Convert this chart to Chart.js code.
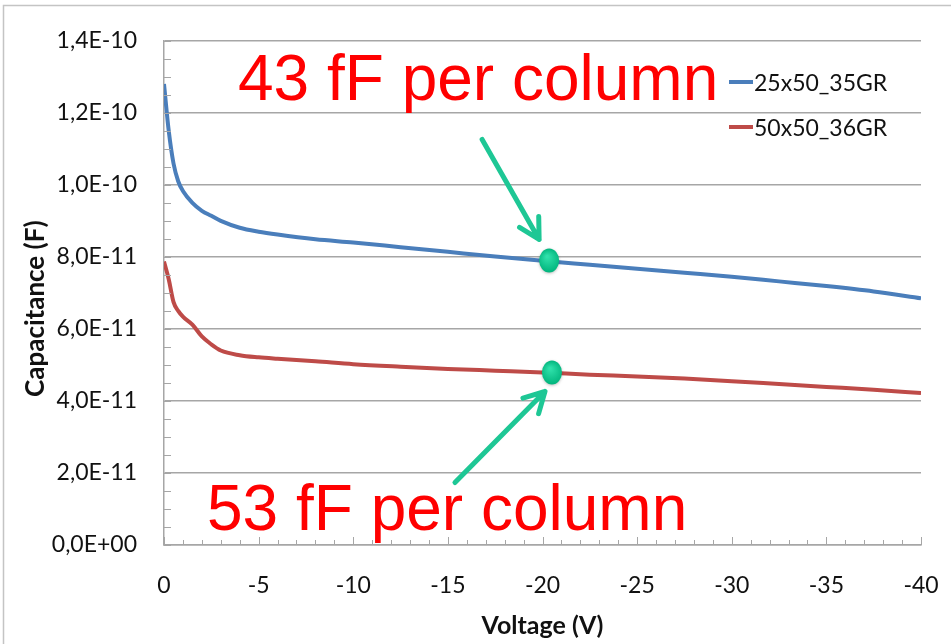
<!DOCTYPE html>
<html>
<head>
<meta charset="utf-8">
<script src="https://cdn.jsdelivr.net/npm/chart.js@4/dist/chart.umd.min.js"></script>
<style>
  body { margin: 0; background: #fff; }
  #wrap { width: 951px; height: 644px; }
</style>
</head>
<body>
<div id="wrap"><canvas id="myChart"></canvas></div>
<script>
// data (capacitance in F, voltage in V)
const voltage = [0, -0.25, -0.5, -0.75, -1, -1.5, -2, -2.5, -3, -4, -5, -6, -8, -10, -12.5, -15, -17.5, -20, -22.5, -25, -27.5, -30, -32.5, -35, -37.5, -40];
const cap25x50 = [12.8e-11, 11.5e-11, 10.6e-11, 10.1e-11, 9.83e-11, 9.5e-11, 9.28e-11, 9.14e-11, 9.0e-11, 8.81e-11, 8.7e-11, 8.62e-11, 8.49e-11, 8.4e-11, 8.27e-11, 8.14e-11, 8.01e-11, 7.89e-11, 7.78e-11, 7.67e-11, 7.56e-11, 7.45e-11, 7.32e-11, 7.19e-11, 7.04e-11, 6.85e-11];
const cap50x50 = [7.87e-11, 7.38e-11, 6.75e-11, 6.5e-11, 6.34e-11, 6.12e-11, 5.79e-11, 5.57e-11, 5.4e-11, 5.27e-11, 5.21e-11, 5.17e-11, 5.1e-11, 5.02e-11, 4.95e-11, 4.89e-11, 4.84e-11, 4.79e-11, 4.73e-11, 4.68e-11, 4.62e-11, 4.55e-11, 4.47e-11, 4.39e-11, 4.31e-11, 4.22e-11];
const seriesNames = ['25x50_35GR', '50x50_36GR'];
const xTicks = [0, -5, -10, -15, -20, -25, -30, -35, -40];
const yTicks = [0, 2e-11, 4e-11, 6e-11, 8e-11, 10e-11, 12e-11, 14e-11];
// marked points and their notes
const noteV = [-20.35, -20.5];
const noteC = [7.9e-11, 4.79e-11];
const noteText = ['43 fF per column', '53 fF per column'];

const gridColor = '#a6a6a6';
const textColor = '#111';
const tickFont = { family: 'Lato', size: 23 };

function sciLabel(v) {
  if (v === 0) return '0,0E+00';
  const [m, e] = v.toExponential(1).split('e');
  const n = parseInt(e, 10);
  return m.replace('.', ',') + 'E' + (n < 0 ? '-' : '+') + String(Math.abs(n)).padStart(2, '0');
}

function drawArrow(ctx, tx, ty, hx, hy) {
  const ang = Math.atan2(hy - ty, hx - tx);
  const len = 23;
  ctx.beginPath();
  ctx.moveTo(tx, ty);
  ctx.lineTo(hx, hy);
  ctx.moveTo(hx - len * Math.cos(ang - 0.5), hy - len * Math.sin(ang - 0.5));
  ctx.lineTo(hx, hy);
  ctx.lineTo(hx - len * Math.cos(ang + 0.5), hy - len * Math.sin(ang + 0.5));
  ctx.stroke();
}

const extras = {
  id: 'extras',
  beforeDraw(chart) {
    const ctx = chart.ctx;
    ctx.save();
    ctx.fillStyle = '#fff';
    ctx.fillRect(0, 0, chart.width, chart.height);
    ctx.strokeStyle = '#c4c4c4';
    ctx.lineWidth = 1.5;
    ctx.strokeRect(3.5, 5.5, chart.width + 20, chart.height + 20);
    ctx.restore();
  },
  afterDraw(chart) {
    const { ctx, chartArea: a, scales: { x, y } } = chart;
    ctx.save();
    // minor tick marks, inside the plot
    ctx.strokeStyle = gridColor;
    ctx.lineWidth = 1;
    for (let i = 0; i <= 28; i++) {
      const py = Math.round(y.getPixelForValue(i * 5e-12)) + 0.5;
      ctx.beginPath(); ctx.moveTo(a.left, py); ctx.lineTo(a.left + 7, py); ctx.stroke();
    }
    for (let i = 0; i <= 40; i++) {
      const px = Math.round(x.getPixelForValue(-i)) + 0.5;
      const len = i % 5 === 0 ? 8 : 5;
      ctx.beginPath(); ctx.moveTo(px, a.bottom); ctx.lineTo(px, a.bottom - len); ctx.stroke();
    }

    // legend
    ctx.font = '23px Lato';
    ctx.textBaseline = 'middle';
    ctx.fillStyle = textColor;
    chart.data.datasets.forEach((ds, i) => {
      const ly = 82 + i * 45;
      ctx.strokeStyle = ds.borderColor;
      ctx.lineWidth = 4;
      ctx.beginPath(); ctx.moveTo(729, ly); ctx.lineTo(753, ly); ctx.stroke();
      ctx.fillText(ds.label, 754, ly + 2);
    });

    // red notes
    ctx.font = '64px "Liberation Sans"';
    ctx.fillStyle = '#ff0000';
    ctx.textBaseline = 'alphabetic';
    ctx.fillText(noteText[0], 238, 100);
    ctx.fillText(noteText[1], 207, 530);

    // green arrows and dots
    const p0 = [x.getPixelForValue(noteV[0]), y.getPixelForValue(noteC[0])];
    const p1 = [x.getPixelForValue(noteV[1]), y.getPixelForValue(noteC[1])];
    ctx.strokeStyle = '#1ec795';
    ctx.lineWidth = 5;
    ctx.lineCap = 'round';
    ctx.lineJoin = 'round';
    drawArrow(ctx, p0[0] - 67, p0[1] - 121, p0[0] - 10, p0[1] - 21);
    drawArrow(ctx, p1[0] - 97, p1[1] + 110, p1[0] - 7, p1[1] + 19);
    [p0, p1].forEach(p => {
      const g = ctx.createRadialGradient(p[0] - 2, p[1] - 4, 1, p[0], p[1], 12);
      g.addColorStop(0, '#2fe0aa');
      g.addColorStop(1, '#00b47c');
      ctx.fillStyle = g;
      ctx.shadowColor = 'rgba(0,0,0,0.25)';
      ctx.shadowBlur = 3;
      ctx.shadowOffsetY = 1;
      ctx.beginPath();
      ctx.ellipse(p[0], p[1], 10, 12, 0, 0, Math.PI * 2);
      ctx.fill();
    });
    ctx.restore();
  }
};

const ctx = document.getElementById('myChart').getContext('2d');
const myChart = new Chart(ctx, {
  type: 'line',
  data: {
    labels: voltage,
    datasets: [{
      label: seriesNames[0],
      data: voltage.map((v, i) => ({ x: v, y: cap25x50[i] })),
      borderColor: '#4a7ebb',
      borderWidth: 4,
      pointRadius: 0,
      cubicInterpolationMode: 'monotone'
    }, {
      label: seriesNames[1],
      data: voltage.map((v, i) => ({ x: v, y: cap50x50[i] })),
      borderColor: '#be4b48',
      borderWidth: 4,
      pointRadius: 0,
      cubicInterpolationMode: 'monotone'
    }]
  },
  options: {
    responsive: true,
    maintainAspectRatio: false,
    animation: false,
    layout: { padding: { left: 0, top: 39, right: 30, bottom: 0 } },
    plugins: { legend: { display: false }, tooltip: { enabled: false } },
    scales: {
      x: {
        type: 'linear',
        min: -40,
        max: 0,
        reverse: true,
        afterBuildTicks: s => { s.ticks = xTicks.map(v => ({ value: v })); },
        afterFit: s => { s.height = 99; s.paddingLeft = 0; s.paddingRight = 0; },
        grid: { drawOnChartArea: false, drawTicks: false, color: gridColor },
        border: { color: gridColor, width: 1.5 },
        ticks: { padding: 27, font: tickFont, color: textColor, callback: v => String(v) },
        title: { display: true, text: 'Voltage (V)', font: { family: 'Lato', size: 25, weight: 'bold' }, color: textColor, padding: { top: 0, bottom: 3 } }
      },
      y: {
        min: 0,
        max: 1.4e-10,
        afterBuildTicks: s => { s.ticks = yTicks.map(v => ({ value: v })); },
        afterFit: s => { s.width = 164; },
        grid: { color: gridColor, lineWidth: 1.5, drawTicks: false },
        border: { color: gridColor, width: 1.5 },
        ticks: { padding: 27, font: tickFont, color: textColor, callback: v => sciLabel(v) },
        title: { display: true, text: 'Capacitance (F)     ', font: { family: 'Lato', size: 26, weight: 'bold' }, color: textColor, padding: { top: 20, bottom: 0 } }
      }
    }
  },
  plugins: [extras]
});
</script>
</body>
</html>
